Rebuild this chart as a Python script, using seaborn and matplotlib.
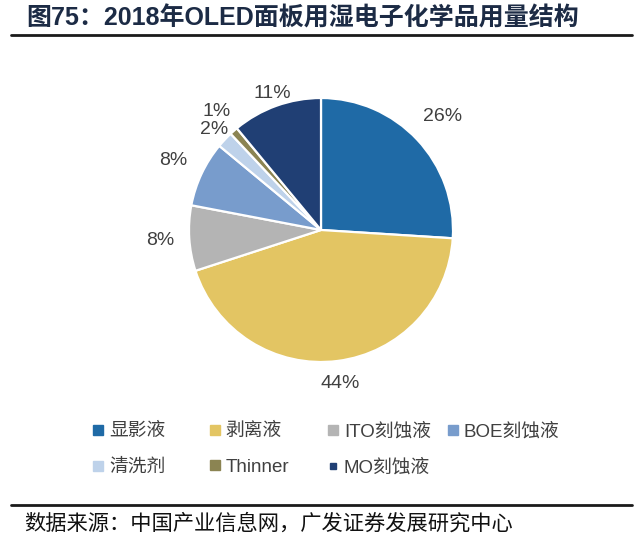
import matplotlib
matplotlib.use("Agg")
import matplotlib.pyplot as plt
from matplotlib.lines import Line2D
import numpy as np
import seaborn as sns

# ---- data ----
categories = ["显影液", "剥离液", "ITO刻蚀液", "BOE刻蚀液", "清洗剂", "Thinner", "MO刻蚀液"]
shares = [26, 44, 8, 8, 2, 1, 11]
pct_labels = ["26%", "44%", "8%", "8%", "2%", "1%", "11%"]
title = "图75：2018年OLED面板用湿电子化学品用量结构"
source = "数据来源：中国产业信息网，广发证券发展研究中心"

# ---- style ----
sns.set_theme(style="white")
plt.rcParams["font.family"] = ["Liberation Sans", "Noto Sans CJK SC", "DejaVu Sans"]
colors = sns.color_palette(["#1f6aa6", "#e3c563", "#b4b4b4", "#789ccc",
                            "#bed2ea", "#8b8452", "#203f74"])
text_color = "#404040"

W, H = 640, 554
fig = plt.figure(figsize=(W / 100, H / 100), dpi=100)
fig.patch.set_facecolor("white")

cx, cy, r = 321, 230, 132
ax = fig.add_axes([(cx - r) / W, (H - cy - r) / H, 2 * r / W, 2 * r / H])
wedges, _ = ax.pie(shares, colors=colors, startangle=90, counterclock=False,
                   radius=1, wedgeprops=dict(edgecolor="white", linewidth=1.6))
ax.set_xlim(-1, 1)
ax.set_ylim(-1, 1)
ax.set_axis_off()

dists = [1.26, 1.17, 1.22, 1.24, 1.11, 1.20, 1.10]
for w, lab, d in zip(wedges, pct_labels, dists):
    ang = np.deg2rad((w.theta1 + w.theta2) / 2)
    ax.text(d * np.cos(ang), d * np.sin(ang), lab, ha="center", va="center",
            fontsize=14, color=text_color, clip_on=False)

# title and rules
fig.text(26 / W, 1 - 18 / H, title, fontsize=18, fontweight="bold",
         color="#1c2b45", ha="left", va="center")
fig.add_artist(Line2D([11 / W, 632 / W], [1 - 35 / H] * 2, color="#1a1a1a", lw=2))
fig.add_artist(Line2D([11 / W, 632 / W], [1 - 505 / H] * 2, color="#1a1a1a", lw=2))
fig.text(24 / W, 1 - 523 / H, source, fontsize=15.3, color="#111111",
         ha="left", va="center")

# legend: four columns, two rows
cols = [[0, 4], [1, 5], [2, 6], [3]]
col_x = [92, 209, 327, 447]
for idxs, x in zip(cols, col_x):
    handles = []
    for i in idxs:
        ms = 4.5 if categories[i] == "MO刻蚀液" else 7
        handles.append(Line2D([], [], marker="s", linestyle="none", markersize=ms,
                              markerfacecolor=colors[i], markeredgecolor=colors[i]))
    leg = fig.legend(handles, [categories[i] for i in idxs],
                     loc="upper left", bbox_to_anchor=(x / W, 1 - 423 / H),
                     frameon=False, fontsize=13.5, borderpad=0, borderaxespad=0,
                     handlelength=0.6, handletextpad=0.3, labelspacing=1.0)
    for t in leg.get_texts():
        t.set_color(text_color)

fig.savefig("out.png", dpi=100, facecolor="white")
